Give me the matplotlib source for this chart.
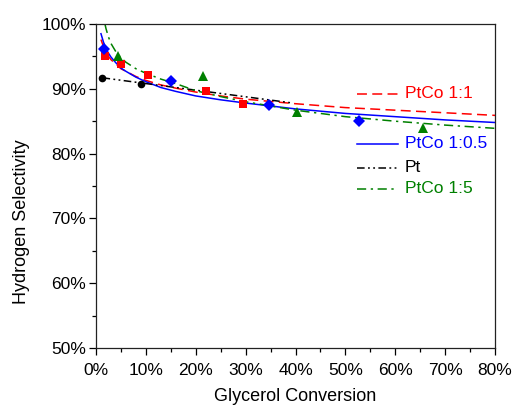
import matplotlib
matplotlib.use("Agg")
import matplotlib.pyplot as plt
from matplotlib.ticker import MultipleLocator, FuncFormatter

plt.rcParams['font.family'] = ['Liberation Sans', 'DejaVu Sans']

RED = '#ff0000'
BLUE = '#0000ff'
BLACK = '#000000'
GREEN = '#008000'

# measured points (glycerol conversion %, H2 selectivity %)
ptco11_x = [1.9, 5.0, 10.4, 22.0, 29.5]
ptco11_y = [95.1, 93.9, 92.1, 89.6, 87.6]

ptco105_x = [1.7, 15.0, 34.7, 52.7]
ptco105_y = [96.1, 91.2, 87.5, 85.1]

pt_x = [1.3, 9.0]
pt_y = [91.7, 90.8]

ptco15_x = [4.5, 21.5, 40.2, 65.6]
ptco15_y = [95.0, 91.9, 86.4, 83.9]

# trend lines
trend_x = [1, 1.5, 2, 2.5, 3, 4, 5, 6, 8, 10, 13, 16, 20, 25, 30, 40, 50, 60, 70, 80]
trend11_y = [97.6, 96.5, 95.7, 95.0, 94.5, 93.8, 93.1, 92.7, 91.9, 91.3, 90.6, 90.1,
             89.5, 88.9, 88.4, 87.7, 87.1, 86.7, 86.3, 85.9]
trend105_y = [98.5, 97.2, 96.2, 95.5, 94.9, 94.0, 93.2, 92.7, 91.8, 91.1, 90.2, 89.6,
              88.9, 88.3, 87.8, 86.9, 86.2, 85.7, 85.2, 84.8]
trend15_x = [1.8, 2, 2.5, 3, 4, 5, 6, 8, 10, 13, 16, 20, 25, 30, 40, 50, 60, 70, 80]
trend15_y = [100.0, 99.3, 98.0, 97.0, 95.7, 94.8, 94.1, 93.1, 92.4, 91.5, 90.8, 89.7,
             88.8, 88.0, 86.7, 85.7, 85.0, 84.4, 83.9]
trendpt_x = [1.3, 39.5]
trendpt_y = [91.7, 87.8]

DASH = (0, (6.5, 3.5))
DASHDOT = (0, (6, 3, 1.5, 3))
DASHDOTDOT = (0, (5, 2.2, 1.2, 2.2, 1.2, 2.2))

fig = plt.figure(figsize=(5.15, 4.07), dpi=100)
ax = fig.add_axes([0.1864, 0.145, 0.7748, 0.796])

lw = 1.1
ax.plot(trend_x, trend11_y, color=RED, lw=lw, linestyle=DASH)
ax.plot(trend_x, trend105_y, color=BLUE, lw=lw)
ax.plot(trendpt_x, trendpt_y, color=BLACK, lw=lw, linestyle=DASHDOTDOT)
ax.plot(trend15_x, trend15_y, color=GREEN, lw=lw, linestyle=DASHDOT)

ax.plot(ptco11_x, ptco11_y, 's', color=RED, ms=6, mew=0)
ax.plot(ptco105_x, ptco105_y, 'D', color=BLUE, ms=6, mew=0)
ax.plot(pt_x, pt_y, 'o', color=BLACK, ms=5.5, mew=0)
ax.plot(ptco15_x, ptco15_y, '^', color=GREEN, ms=7, mew=0)

ax.set_xlim(0, 80)
ax.set_ylim(50, 100)
pct = FuncFormatter(lambda v, p: '%d%%' % round(v))
ax.xaxis.set_major_locator(MultipleLocator(10))
ax.xaxis.set_minor_locator(MultipleLocator(5))
ax.yaxis.set_major_locator(MultipleLocator(10))
ax.yaxis.set_minor_locator(MultipleLocator(5))
ax.xaxis.set_major_formatter(pct)
ax.yaxis.set_major_formatter(pct)
ax.tick_params(which='both', direction='out', top=False, right=False, labelsize=12.5, width=0.9)
ax.tick_params(which='major', length=5)
ax.tick_params(which='minor', length=3)
ax.tick_params(axis='y', which='major', pad=2)
ax.tick_params(axis='x', which='major', pad=6)
for s in ax.spines.values():
    s.set_linewidth(0.9)
    s.set_color('#222222')

ax.set_xlabel('Glycerol Conversion', fontsize=13, labelpad=7)
ax.set_ylabel('Hydrogen Selectivity', fontsize=13)
ax.yaxis.set_label_coords(-0.165, 0.39)

# hand-placed legend entries
entries = [
    ('PtCo 1:1', RED, DASH, 0.784),
    ('PtCo 1:0.5', BLUE, '-', 0.630),
    ('Pt', BLACK, DASHDOTDOT, 0.556),
    ('PtCo 1:5', GREEN, DASHDOT, 0.491),
]
for label, c, ls, yy in entries:
    ax.plot([0.654, 0.757], [yy, yy], transform=ax.transAxes, color=c, lw=lw, linestyle=ls)
    ax.text(0.774, yy, label, transform=ax.transAxes, color=c, fontsize=12.5,
            va='center', ha='left')

fig.savefig('out.png', dpi=100)
